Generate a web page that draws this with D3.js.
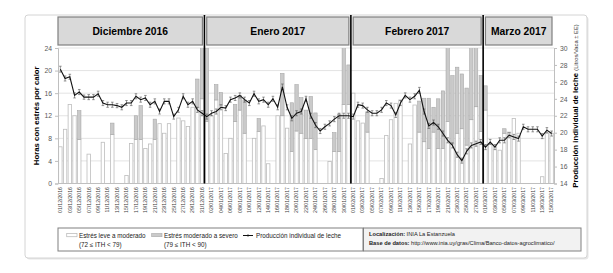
<!DOCTYPE html>
<html><head><meta charset="utf-8">
<script src="https://cdn.jsdelivr.net/npm/d3@7/dist/d3.min.js"></script>
<style>body{margin:0;background:#fff}svg{display:block;font-family:"Liberation Sans",Arial,sans-serif}</style>
</head><body><svg id="c" width="613" height="273"></svg>
<script>
const dates = [
"01/12/2016","02/12/2016","03/12/2016","04/12/2016","05/12/2016","06/12/2016","07/12/2016","08/12/2016","09/12/2016","10/12/2016",
"11/12/2016","12/12/2016","13/12/2016","14/12/2016","15/12/2016","16/12/2016","17/12/2016","18/12/2016","19/12/2016","20/12/2016",
"21/12/2016","22/12/2016","23/12/2016","24/12/2016","25/12/2016","26/12/2016","27/12/2016","28/12/2016","29/12/2016","30/12/2016","31/12/2016",
"01/01/2017","02/01/2017","03/01/2017","04/01/2017","05/01/2017","06/01/2017","07/01/2017","08/01/2017","09/01/2017","10/01/2017",
"11/01/2017","12/01/2017","13/01/2017","14/01/2017","15/01/2017","16/01/2017","17/01/2017","18/01/2017","19/01/2017","20/01/2017",
"21/01/2017","22/01/2017","23/01/2017","24/01/2017","25/01/2017","26/01/2017","27/01/2017","28/01/2017","29/01/2017","30/01/2017","31/01/2017",
"01/02/2017","02/02/2017","03/02/2017","04/02/2017","05/02/2017","06/02/2017","07/02/2017","08/02/2017","09/02/2017","10/02/2017",
"11/02/2017","12/02/2017","13/02/2017","14/02/2017","15/02/2017","16/02/2017","17/02/2017","18/02/2017","19/02/2017","20/02/2017",
"21/02/2017","22/02/2017","23/02/2017","24/02/2017","25/02/2017","26/02/2017","27/02/2017","28/02/2017",
"01/03/2017","02/03/2017","03/03/2017","04/03/2017","05/03/2017","06/03/2017","07/03/2017","08/03/2017","09/03/2017","10/03/2017",
"11/03/2017","12/03/2017","13/03/2017","14/03/2017","15/03/2017"];

// Horas estrés leve a moderado (72 <= ITH < 79)
const leve = [
6.5,9.6,14.0,12.0,7.8,0,5.2,0,0,7.3,0,8.7,0,0,1.4,7.1,7.8,7.8,6.2,7.0,7.8,10.6,8.9,10.6,0,11.6,11.1,10.1,13.5,13.5,15.0,
11.0,12.0,14.8,13.9,5.3,8.0,11.0,13.0,8.9,0,8.0,9.2,10.2,3.5,0,12.0,12.0,9.8,5.7,9.3,8.9,8.0,8.0,6.0,0,0,3.9,5.7,5.7,14.0,14.0,
16.0,11.1,10.7,9.1,0,0,0.9,8.5,11.3,14.2,14.8,0,7.0,13.9,9.1,7.4,6.2,9.1,6.2,6.2,11.0,7.0,8.9,9.7,6.8,11.3,13.6,9.2,
13.0,7.1,6.5,5.9,8.9,9.1,11.5,8.9,0,0,0,0,1.2,8.9,8.9];
// Horas estrés moderado a severo (79 <= ITH < 90)
const severo = [
0,0,0,0,5.1,0,0,0,0,0,0,2.0,0,0,0,0,4.2,6.0,0,0,3.6,0,0,0,0,0,0,0,0,5.0,11.0,
13.0,0,2.7,2.2,0,0,3.0,2.6,5.9,0,0,2.3,0,0,0,0,7.5,0,8.6,8.2,6.3,5.0,7.4,6.5,0,0,0,3.3,6.6,12.0,7.0,
0,0,0,3.6,0,0,0,0,0,0,0,0,0,0,5.5,7.7,8.9,4.4,8.8,10.2,15.0,12.1,11.7,9.7,10.1,14.7,12.4,9.9,
4.3,0,0,0,0.8,0,0,0,0,0,0,0,0,0,0];
// Producción individual de leche (L/vaca)
const leche = [
27.5,26.4,26.6,24.4,24.8,24.2,24.2,24.2,24.6,23.5,23.3,23.3,23.2,23.0,23.5,23.5,24.3,23.9,24.1,23.3,23.7,22.5,23.7,23.7,21.9,22.7,24.3,23.3,23.7,22.7,22.3,
21.9,22.3,22.5,23.0,22.9,23.9,24.1,24.4,23.9,23.5,24.6,23.7,23.9,23.3,24.0,23.0,25.4,23.0,21.7,22.3,22.5,24.0,22.0,20.9,20.2,20.7,21.1,21.6,22.0,22.0,22.0,
21.9,23.3,23.2,22.7,22.3,22.3,22.7,23.5,23.2,22.1,23.5,24.4,23.9,24.3,25.0,22.5,20.8,21.2,20.7,19.9,19.1,18.5,17.4,16.7,17.8,18.5,18.7,18.9,
18.3,18.9,18.3,19.1,19.1,19.7,19.5,19.3,20.7,20.4,20.4,20.4,19.6,20.3,19.9];
// Error estándar
const ee = [
0.35,0.3,0.3,0.3,0.3,0.25,0.3,0.3,0.3,0.3,0.3,0.3,0.25,0.3,0.3,0.3,0.3,0.3,0.3,0.3,0.3,0.3,0.3,0.3,0.3,0.3,0.3,0.3,0.3,0.3,0.3,
0.3,0.3,0.3,0.3,0.3,0.3,0.3,0.3,0.3,0.3,0.3,0.3,0.3,0.3,0.3,0.3,0.35,0.3,0.3,0.3,0.3,0.3,0.3,0.3,0.3,0.3,0.3,0.3,0.3,0.3,0.3,
0.3,0.3,0.3,0.3,0.3,0.3,0.3,0.3,0.3,0.3,0.3,0.3,0.3,0.3,0.35,0.3,0.3,0.3,0.3,0.3,0.3,0.3,0.3,0.3,0.3,0.3,0.3,0.3,
0.3,0.3,0.3,0.3,0.3,0.3,0.3,0.3,0.3,0.3,0.3,0.3,0.3,0.3,0.3];

const months = ["Diciembre 2016","Enero 2017","Febrero 2017","Marzo 2017"];
const monthStart = ["01/12/2016","01/01/2017","01/02/2017","01/03/2017"];
const leftTicks = [0,4,8,12,16,20,24];
const rightTicks = [14,16,18,20,22,24,26,28,30];

const svg = d3.select("#c");
const X0 = 58, X1 = 554, Y0 = 183.5, Y1 = 48;
const x = d3.scaleBand().domain(dates).range([X0, X1]).paddingInner(0.28).paddingOuter(0.14);
const step = x.step();
const yL = d3.scaleLinear().domain([0,24]).range([Y0, Y1]);
const yR = d3.scaleLinear().domain([14,30]).range([Y0, Y1]);
const cx = d => x(d) + x.bandwidth()/2;
const bnd = d => x(d) - step*0.14;

// outer frame
svg.append("rect").attr("x",26.5).attr("y",16.5).attr("width",562).attr("height",243).attr("rx",3)
  .attr("fill","#e6e6e6");
svg.append("rect").attr("x",25).attr("y",15).attr("width",562).attr("height",243).attr("rx",3)
  .attr("fill","#fff").attr("stroke","#d4d4d4").attr("stroke-width",1);

// month headers
const bounds = monthStart.map(bnd).concat([X1]);
months.forEach((m,i) => {
  const l = i===0 ? X0 : bounds[i]+2.3, r = bounds[i+1]-2;
  svg.append("rect").attr("x",l).attr("y",17).attr("width",r-l).attr("height",28)
    .attr("fill","#d9d9d9").attr("stroke","#7f7f7f").attr("stroke-width",1.2);
  svg.append("text").attr("x",(l+r)/2).attr("y",34.5).attr("text-anchor","middle")
    .attr("font-size",10.3).attr("font-weight","bold").attr("fill","#000").text(m);
});

// gridlines
svg.append("g").selectAll("line").data(leftTicks.slice(1)).join("line")
  .attr("x1",X0).attr("x2",X1).attr("y1",d=>yL(d)).attr("y2",d=>yL(d))
  .attr("stroke","#e3e3e3").attr("stroke-width",1);

// clip
svg.append("clipPath").attr("id","pc").append("rect").attr("x",X0).attr("y",Y1).attr("width",X1-X0).attr("height",Y0-Y1);
const gb = svg.append("g").attr("clip-path","url(#pc)");
const idx = d3.range(dates.length);
gb.selectAll("rect.lv").data(idx.filter(i=>leve[i]>0)).join("rect")
  .attr("x",i=>x(dates[i])).attr("width",x.bandwidth())
  .attr("y",i=>yL(leve[i])).attr("height",i=>Y0-yL(leve[i]))
  .attr("fill","#fff").attr("stroke","#bdbdbd").attr("stroke-width",0.8);
gb.selectAll("rect.sv").data(idx.filter(i=>severo[i]>0)).join("rect")
  .attr("x",i=>x(dates[i])).attr("width",x.bandwidth())
  .attr("y",i=>yL(leve[i]+severo[i])).attr("height",i=>yL(leve[i])-yL(leve[i]+severo[i]))
  .attr("fill","#cacaca").attr("stroke","#a8a8a8").attr("stroke-width",0.6);

// axes
const axL = svg.append("g").attr("transform",`translate(${X0},0)`)
  .call(d3.axisLeft(yL).tickValues(leftTicks).tickSize(3).tickPadding(3));
const axR = svg.append("g").attr("transform",`translate(${X1},0)`)
  .call(d3.axisRight(yR).tickValues(rightTicks).tickSize(3).tickPadding(3));
[axL,axR].forEach(a=>{
  a.select(".domain").attr("stroke","#bfbfbf");
  a.selectAll(".tick line").attr("stroke","#bfbfbf");
  a.selectAll("text").attr("font-size",6.8).attr("fill","#595959").attr("font-family","Liberation Sans, Arial, sans-serif");
});
svg.append("line").attr("x1",X0).attr("x2",X1).attr("y1",Y0).attr("y2",Y0).attr("stroke","#bfbfbf");

// x labels
svg.append("g").selectAll("text").data(idx.filter(i=>i%2===0)).join("text")
  .attr("transform",i=>`translate(${cx(dates[i])+1.8},187) rotate(-90)`)
  .attr("text-anchor","end").attr("font-size",5.2).attr("fill","#404040").text(i=>dates[i]);

// milk line with error bars
const gl = svg.append("g");
gl.selectAll("line.eb").data(idx).join("line")
  .attr("x1",i=>cx(dates[i])).attr("x2",i=>cx(dates[i]))
  .attr("y1",i=>yR(leche[i]-ee[i])).attr("y2",i=>yR(leche[i]+ee[i]))
  .attr("stroke","#555").attr("stroke-width",0.6);
["-","+"].forEach(s=>{
  gl.selectAll("line.c"+(s==="-"?"a":"b")).data(idx).join("line")
    .attr("x1",i=>cx(dates[i])-1.3).attr("x2",i=>cx(dates[i])+1.3)
    .attr("y1",i=>yR(s==="-"?leche[i]-ee[i]:leche[i]+ee[i]))
    .attr("y2",i=>yR(s==="-"?leche[i]-ee[i]:leche[i]+ee[i]))
    .attr("stroke","#555").attr("stroke-width",0.6);
});
gl.append("path").datum(idx)
  .attr("d",d3.line().x(i=>cx(dates[i])).y(i=>yR(leche[i])))
  .attr("fill","none").attr("stroke","#111").attr("stroke-width",1.1);

// month dividers
svg.append("g").selectAll("line").data(bounds.slice(1,4)).join("line")
  .attr("x1",d=>d).attr("x2",d=>d).attr("y1",15).attr("y2",Y0)
  .attr("stroke","#000").attr("stroke-width",1.6);

// axis titles
svg.append("text").attr("transform",`translate(38.5,${(Y0+Y1)/2}) rotate(-90)`)
  .attr("text-anchor","middle").attr("font-size",7.8).attr("font-weight","bold").text("Horas con estrés por calor");
const rt = svg.append("text").attr("transform",`translate(578,106) rotate(-90)`).attr("text-anchor","middle");
rt.append("tspan").attr("font-size",7.8).attr("font-weight","bold").text("Producción individual de leche ");
rt.append("tspan").attr("font-size",5.8).attr("fill","#333").text("(Litros/Vaca ± EE)");

// legend box 1
svg.append("rect").attr("x",58).attr("y",228).attr("width",305).attr("height",23)
  .attr("fill","#fff").attr("stroke","#808080").attr("stroke-width",1);
const lg = svg.append("g").attr("font-size",6.3).attr("fill","#222");
lg.append("rect").attr("x",66.7).attr("y",233.5).attr("width",10.3).attr("height",3.2).attr("fill","#fff").attr("stroke","#bdbdbd").attr("stroke-width",0.8);
lg.append("text").attr("x",79).attr("y",238).text("Estrés leve a moderado");
lg.append("text").attr("x",79).attr("y",247).text("(72 ≤ ITH < 79)");
lg.append("rect").attr("x",151.7).attr("y",233.5).attr("width",10.3).attr("height",3.2).attr("fill","#cacaca").attr("stroke","#a8a8a8").attr("stroke-width",0.6);
lg.append("text").attr("x",164).attr("y",238).text("Estrés moderado a severo");
lg.append("text").attr("x",164).attr("y",247).text("(79 ≤ ITH < 90)");
lg.append("line").attr("x1",243).attr("x2",253).attr("y1",235.5).attr("y2",235.5).attr("stroke","#111").attr("stroke-width",1);
lg.append("line").attr("x1",248).attr("x2",248).attr("y1",234.3).attr("y2",236.7).attr("stroke","#111").attr("stroke-width",0.8);
lg.append("text").attr("x",256).attr("y",238).text("Producción individual de leche");

// legend box 2
svg.append("rect").attr("x",363.5).attr("y",228).attr("width",217.5).attr("height",23)
  .attr("fill","#f2f2f2").attr("stroke","#808080").attr("stroke-width",1);
const lb = svg.append("g").attr("font-size",5.7).attr("fill","#222");
const t1 = lb.append("text").attr("x",369).attr("y",236);
t1.append("tspan").attr("font-weight","bold").text("Localización: ");
t1.append("tspan").text("INIA La Estanzuela");
const t2 = lb.append("text").attr("x",369).attr("y",245);
t2.append("tspan").attr("font-weight","bold").text("Base de datos: ");
t2.append("tspan").text("http://www.inia.uy/gras/Clima/Banco-datos-agroclimatico/");
</script></body></html>
